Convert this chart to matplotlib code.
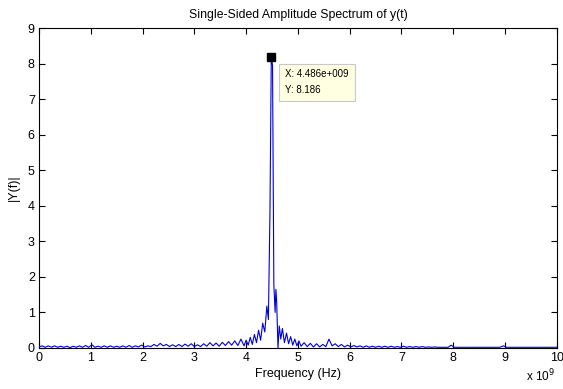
import numpy as np
import matplotlib
matplotlib.use("Agg")
import matplotlib.pyplot as plt

plt.rcParams['font.family'] = ['Liberation Sans', 'DejaVu Sans']

# Frequency (GHz) and amplitude |Y(f)|
freq_ghz = [
    0.00, 0.06, 0.12, 0.18, 0.24, 0.30, 0.36, 0.42, 0.48, 0.54, 0.60, 0.66, 0.72, 0.78, 0.84, 0.90, 0.96,
    1.02, 1.08, 1.14, 1.20, 1.26, 1.32, 1.38, 1.44, 1.50, 1.56, 1.62, 1.68, 1.74, 1.80, 1.86, 1.92, 1.98,
    2.04, 2.10, 2.16, 2.22, 2.28, 2.34, 2.40, 2.46, 2.52, 2.58, 2.64, 2.70, 2.76, 2.82, 2.88, 2.94,
    3.00, 3.06, 3.12, 3.18, 3.24, 3.30, 3.36, 3.42, 3.48, 3.54, 3.60, 3.66, 3.72, 3.78, 3.84, 3.90, 3.96,
    4.00, 4.04, 4.08, 4.12, 4.16, 4.20, 4.24, 4.28, 4.32, 4.36, 4.40, 4.43, 4.46, 4.486, 4.51, 4.535,
    4.56, 4.575, 4.59, 4.615, 4.64, 4.67, 4.70, 4.74, 4.78, 4.82, 4.86, 4.90, 4.94, 4.98,
    5.02, 5.06, 5.12, 5.18, 5.24, 5.30, 5.36, 5.42, 5.48, 5.54, 5.60, 5.66, 5.72, 5.78, 5.84, 5.90, 5.96,
    6.02, 6.08, 6.14, 6.20, 6.26, 6.32, 6.38, 6.44, 6.50, 6.56, 6.62, 6.68, 6.74, 6.80, 6.86, 6.92, 6.98,
    7.04, 7.10, 7.16, 7.22, 7.28, 7.34, 7.40, 7.46, 7.52, 7.58, 7.64, 7.70, 7.80, 7.90, 7.96, 8.02, 8.10,
    8.30, 8.50, 8.70, 8.90, 8.97, 9.03, 9.20, 9.40, 9.60, 9.80, 10.00,
]
amplitude = [
    0.03, 0.06, 0.02, 0.06, 0.02, 0.06, 0.02, 0.05, 0.02, 0.05, 0.01, 0.05, 0.02, 0.06, 0.02, 0.07, 0.02,
    0.09, 0.02, 0.05, 0.02, 0.06, 0.02, 0.06, 0.02, 0.05, 0.02, 0.06, 0.02, 0.07, 0.02, 0.06, 0.03, 0.08,
    0.03, 0.06, 0.04, 0.10, 0.05, 0.13, 0.06, 0.10, 0.04, 0.09, 0.04, 0.10, 0.04, 0.11, 0.05, 0.12,
    0.04, 0.09, 0.04, 0.12, 0.05, 0.15, 0.06, 0.14, 0.05, 0.16, 0.07, 0.18, 0.08, 0.20, 0.07, 0.25, 0.06,
    0.22, 0.08, 0.30, 0.10, 0.38, 0.15, 0.50, 0.22, 0.70, 0.45, 1.18, 0.80, 3.80, 8.186, 7.95, 1.80,
    1.00, 1.65, 1.30, 0.00, 0.62, 0.25, 0.55, 0.15, 0.42, 0.12, 0.32, 0.08, 0.25, 0.06,
    0.20, 0.05, 0.15, 0.04, 0.13, 0.03, 0.12, 0.03, 0.10, 0.04, 0.25, 0.06, 0.12, 0.04, 0.10, 0.03, 0.08,
    0.03, 0.07, 0.03, 0.06, 0.02, 0.06, 0.02, 0.05, 0.02, 0.05, 0.02, 0.05, 0.02, 0.05, 0.02, 0.04, 0.02,
    0.05, 0.02, 0.04, 0.02, 0.04, 0.02, 0.04, 0.02, 0.03, 0.02, 0.03, 0.02, 0.02, 0.02, 0.08, 0.02, 0.02,
    0.02, 0.02, 0.02, 0.02, 0.06, 0.02, 0.02, 0.02, 0.02, 0.02, 0.02,
]
peak_f_ghz = 4.486
peak_amp = 8.186
x_ticks = [0, 1, 2, 3, 4, 5, 6, 7, 8, 9, 10]
y_ticks = [0, 1, 2, 3, 4, 5, 6, 7, 8, 9]

f_hz = np.array(freq_ghz) * 1e9

fig = plt.figure(figsize=(5.63, 3.89), dpi=100)
ax = fig.add_axes([0.0693, 0.1054, 0.9197, 0.8226])
ax.plot(f_hz, amplitude, color='#0000dd', lw=0.8)
ax.plot([peak_f_ghz * 1e9], [peak_amp], marker='s', color='black', ms=5.5, ls='none')

ax.set_xlim(0, 10e9)
ax.set_ylim(0, 9)
ax.set_xticks([t * 1e9 for t in x_ticks])
ax.set_xticklabels([str(t) for t in x_ticks])
ax.set_yticks(y_ticks)
ax.set_yticklabels([str(t) for t in y_ticks])
ax.tick_params(direction='in', top=True, right=True, length=4, width=0.8, labelsize=9, pad=3)
for s in ax.spines.values():
    s.set_linewidth(0.8)

ax.set_title('Single-Sided Amplitude Spectrum of y(t)', fontsize=8.8, pad=7)
ax.set_xlabel('Frequency (Hz)', fontsize=9, labelpad=3)
ax.set_ylabel('|Y(f)|', fontsize=9, labelpad=6)
fig.text(0.985, 0.012, r'x 10$^{9}$', ha='right', va='bottom', fontsize=8.5)

ax.annotate('X: 4.486e+009\nY: 8.186', xy=(peak_f_ghz * 1e9, peak_amp),
            xytext=(10, -9), textcoords='offset points', ha='left', va='top',
            fontsize=7, linespacing=1.7,
            bbox=dict(boxstyle='square,pad=0.6', fc='#ffffe1', ec='#c8c8c8', lw=0.8))

fig.savefig('out.png', dpi=100)
